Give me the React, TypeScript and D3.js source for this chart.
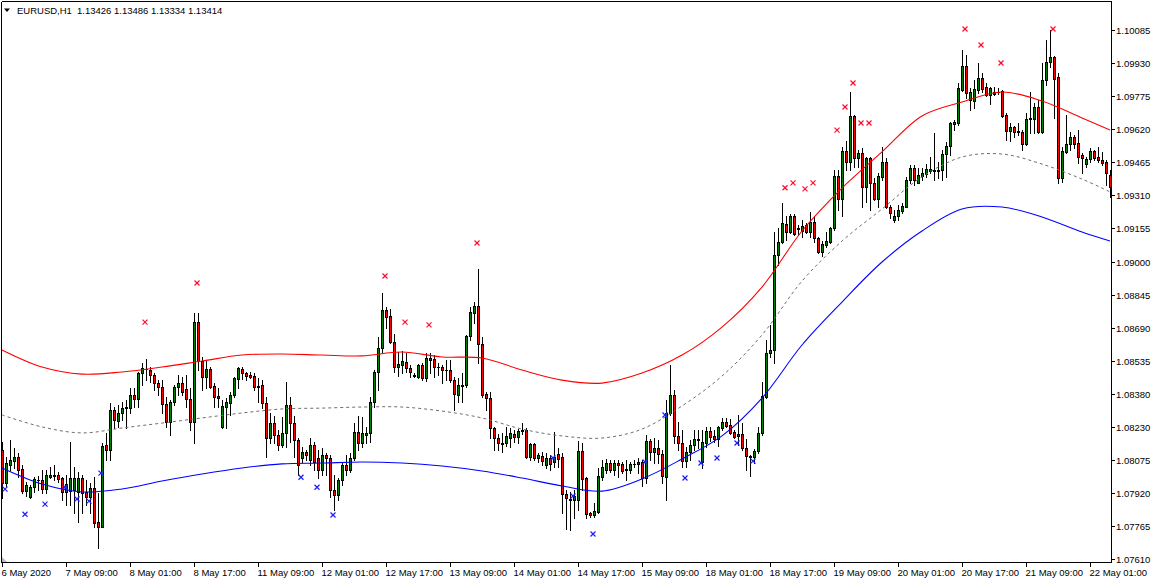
import React from 'react';
import * as d3 from 'd3';

const W = 1157;
const H = 580;

const SYMBOL = 'EURUSD,H1';
const QUOTE = '1.13426 1.13486 1.13334 1.13414';

const PRICE_LABELS = ['1.10085','1.09930','1.09775','1.09620','1.09465','1.09310','1.09155','1.09000','1.08845','1.08690','1.08535','1.08380','1.08230','1.08075','1.07920','1.07765','1.07610'];

const TIME_LABELS = ['6 May 2020','7 May 09:00','8 May 01:00','8 May 17:00','11 May 09:00','12 May 01:00','12 May 17:00','13 May 09:00','14 May 01:00','14 May 17:00','15 May 09:00','18 May 01:00','18 May 17:00','19 May 09:00','20 May 01:00','20 May 17:00','21 May 09:00','22 May 01:00'];
const BARS_PER_LABEL = 16;

// [open, high, low, close] hourly bars
const OHLC: [number, number, number, number][] = [
[1.08121,1.08159,1.07897,1.07966],[1.07966,1.08088,1.07947,1.08060],[1.08051,1.08168,1.08027,1.08074],[1.08069,1.08131,1.08037,1.08088],
[1.08088,1.08107,1.07994,1.08027],[1.08032,1.08051,1.07920,1.07929],[1.07929,1.07971,1.07906,1.07957],[1.07901,1.07957,1.07897,1.07947],
[1.07947,1.07994,1.07925,1.07985],[1.07980,1.07999,1.07934,1.07980],[1.07980,1.08027,1.07920,1.07938],[1.07938,1.08027,1.07920,1.08004],
[1.07994,1.08041,1.07990,1.08004],[1.08004,1.08051,1.07980,1.07999],[1.08004,1.08018,1.07971,1.07985],[1.07990,1.07994,1.07887,1.07925],
[1.07925,1.08004,1.07864,1.07961],[1.07929,1.08159,1.07864,1.07990],[1.07934,1.08041,1.07826,1.07990],[1.07925,1.08018,1.07784,1.07990],
[1.07990,1.08004,1.07826,1.07920],[1.07925,1.07980,1.07864,1.07901],[1.07901,1.07966,1.07826,1.07943],[1.07943,1.07994,1.07760,1.07779],
[1.07784,1.07920,1.07663,1.07760],[1.07760,1.08154,1.07760,1.08140],[1.08145,1.08200,1.08074,1.08121],[1.08121,1.08341,1.08074,1.08308],
[1.08308,1.08322,1.08224,1.08261],[1.08257,1.08332,1.08229,1.08294],[1.08294,1.08346,1.08261,1.08318],[1.08318,1.08355,1.08224,1.08322],
[1.08318,1.08411,1.08294,1.08378],[1.08378,1.08411,1.08322,1.08359],[1.08359,1.08486,1.08322,1.08481],[1.08481,1.08528,1.08425,1.08505],
[1.08500,1.08547,1.08448,1.08500],[1.08495,1.08511,1.08439,1.08472],[1.08472,1.08481,1.08401,1.08434],[1.08434,1.08448,1.08378,1.08415],
[1.08415,1.08448,1.08294,1.08336],[1.08336,1.08368,1.08229,1.08252],[1.08252,1.08355,1.08191,1.08346],[1.08346,1.08425,1.08332,1.08415],
[1.08415,1.08472,1.08378,1.08434],[1.08434,1.08462,1.08378,1.08392],[1.08406,1.08472,1.08322,1.08359],[1.08359,1.08411,1.08214,1.08252],
[1.08252,1.08762,1.08154,1.08719],[1.08719,1.08762,1.08495,1.08537],[1.08537,1.08556,1.08401,1.08462],[1.08462,1.08542,1.08411,1.08500],
[1.08500,1.08511,1.08411,1.08415],[1.08420,1.08434,1.08322,1.08368],[1.08373,1.08411,1.08322,1.08363],[1.08229,1.08355,1.08224,1.08327],
[1.08322,1.08363,1.08224,1.08346],[1.08341,1.08392,1.08285,1.08378],[1.08378,1.08462,1.08368,1.08457],[1.08453,1.08511,1.08411,1.08505],
[1.08500,1.08511,1.08453,1.08481],[1.08481,1.08486,1.08448,1.08467],[1.08472,1.08486,1.08457,1.08462],[1.08467,1.08481,1.08401,1.08415],
[1.08420,1.08457,1.08346,1.08415],[1.08425,1.08448,1.08318,1.08341],[1.08341,1.08368,1.08088,1.08177],[1.08177,1.08294,1.08154,1.08247],
[1.08247,1.08278,1.08154,1.08191],[1.08191,1.08214,1.08121,1.08145],[1.08145,1.08274,1.08136,1.08200],[1.08200,1.08439,1.08136,1.08332],
[1.08332,1.08368,1.08159,1.08247],[1.08247,1.08278,1.08088,1.08168],[1.08168,1.08177,1.08004,1.08051],[1.08084,1.08136,1.08065,1.08112],
[1.08112,1.08121,1.08074,1.08098],[1.08074,1.08177,1.08051,1.08145],[1.08145,1.08159,1.08027,1.08065],[1.08084,1.08121,1.07990,1.08027],
[1.08027,1.08131,1.08004,1.08098],[1.08098,1.08107,1.08004,1.08084],[1.08084,1.08098,1.07901,1.07934],[1.07934,1.08004,1.07840,1.07911],
[1.07911,1.07990,1.07887,1.07980],[1.07980,1.08065,1.07957,1.08051],[1.08051,1.08098,1.08004,1.08027],[1.08027,1.08107,1.08018,1.08084],
[1.08084,1.08247,1.08074,1.08205],[1.08205,1.08278,1.08121,1.08154],[1.08154,1.08274,1.08136,1.08200],[1.08191,1.08229,1.08154,1.08200],
[1.08200,1.08368,1.08159,1.08346],[1.08346,1.08495,1.08322,1.08486],[1.08486,1.08649,1.08401,1.08598],[1.08598,1.08855,1.08575,1.08776],
[1.08776,1.08789,1.08693,1.08743],[1.08748,1.08780,1.08621,1.08626],[1.08626,1.08663,1.08486,1.08511],[1.08511,1.08580,1.08467,1.08525],
[1.08520,1.08584,1.08481,1.08537],[1.08533,1.08575,1.08486,1.08505],[1.08505,1.08520,1.08462,1.08486],[1.08472,1.08481,1.08462,1.08467],
[1.08462,1.08523,1.08457,1.08520],[1.08520,1.08528,1.08448,1.08457],[1.08457,1.08575,1.08443,1.08552],[1.08552,1.08575,1.08481,1.08542],
[1.08547,1.08566,1.08462,1.08511],[1.08511,1.08528,1.08472,1.08511],[1.08511,1.08520,1.08434,1.08495],[1.08495,1.08542,1.08448,1.08495],
[1.08495,1.08542,1.08439,1.08448],[1.08448,1.08462,1.08308,1.08382],[1.08378,1.08457,1.08346,1.08425],[1.08420,1.08481,1.08346,1.08425],
[1.08425,1.08659,1.08415,1.08654],[1.08654,1.08789,1.08635,1.08766],[1.08762,1.08813,1.08715,1.08794],[1.08794,1.08967,1.08528,1.08616],
[1.08616,1.08649,1.08368,1.08378],[1.08382,1.08392,1.08308,1.08363],[1.08363,1.08392,1.08177,1.08224],[1.08224,1.08229,1.08121,1.08177],
[1.08177,1.08195,1.08121,1.08154],[1.08149,1.08200,1.08112,1.08154],[1.08154,1.08229,1.08140,1.08186],[1.08177,1.08224,1.08136,1.08200],
[1.08195,1.08214,1.08159,1.08182],[1.08182,1.08219,1.08154,1.08210],[1.08214,1.08247,1.08195,1.08210],[1.08214,1.08224,1.08084,1.08088],
[1.08088,1.08154,1.08074,1.08149],[1.08149,1.08154,1.08074,1.08084],[1.08084,1.08107,1.08065,1.08098],[1.08093,1.08112,1.08051,1.08069],
[1.08051,1.08107,1.08037,1.08084],[1.08084,1.08098,1.08027,1.08055],[1.08065,1.08205,1.08041,1.08088],[1.08102,1.08131,1.08041,1.08079],
[1.08088,1.08107,1.07826,1.07915],[1.07915,1.07934,1.07752,1.07897],[1.07892,1.07925,1.07747,1.07887],[1.07887,1.07934,1.07802,1.07906],
[1.07887,1.08163,1.07840,1.08116],[1.08116,1.08154,1.07934,1.07985],[1.07990,1.07994,1.07802,1.07821],[1.07826,1.07831,1.07807,1.07817],
[1.07817,1.07873,1.07807,1.07835],[1.07831,1.08037,1.07826,1.07999],[1.07994,1.08074,1.07980,1.08041],[1.08027,1.08079,1.08013,1.08060],
[1.08060,1.08074,1.08018,1.08027],[1.08027,1.08074,1.08004,1.08060],[1.08060,1.08074,1.07994,1.08051],[1.08055,1.08065,1.08013,1.08022],
[1.08032,1.08074,1.07980,1.08027],[1.08027,1.08065,1.08013,1.08055],[1.08055,1.08074,1.08041,1.08055],[1.08055,1.08084,1.08013,1.08065],
[1.08065,1.08074,1.07952,1.07990],[1.07990,1.08191,1.07966,1.08163],[1.08163,1.08172,1.08074,1.08112],[1.08112,1.08177,1.08060,1.08131],
[1.08131,1.08168,1.08060,1.08102],[1.08102,1.08121,1.07966,1.07999],[1.07994,1.08355,1.07887,1.08294],[1.08294,1.08519,1.08285,1.08378],
[1.08378,1.08401,1.08154,1.08186],[1.08186,1.08252,1.08121,1.08154],[1.08154,1.08214,1.08041,1.08069],[1.08069,1.08136,1.08041,1.08112],
[1.08112,1.08168,1.08074,1.08145],[1.08145,1.08214,1.08121,1.08172],[1.08172,1.08214,1.08131,1.08168],[1.08065,1.08214,1.08037,1.08159],
[1.08154,1.08229,1.08136,1.08210],[1.08210,1.08229,1.08163,1.08182],[1.08186,1.08214,1.08159,1.08172],[1.08172,1.08233,1.08140,1.08229],
[1.08224,1.08270,1.08214,1.08252],[1.08252,1.08270,1.08229,1.08233],[1.08238,1.08266,1.08195,1.08200],[1.08205,1.08214,1.08177,1.08182],
[1.08195,1.08285,1.08145,1.08186],[1.08195,1.08247,1.08121,1.08131],[1.08131,1.08172,1.08027,1.08093],[1.08093,1.08098,1.07999,1.08088],
[1.08088,1.08126,1.08060,1.08116],[1.08116,1.08229,1.08107,1.08200],[1.08200,1.08439,1.08191,1.08373],[1.08368,1.08635,1.08363,1.08575],
[1.08575,1.08707,1.08556,1.08589],[1.08589,1.09141,1.08528,1.09033],[1.09033,1.09159,1.08986,1.09094],[1.09094,1.09276,1.09089,1.09182],
[1.09177,1.09213,1.09103,1.09141],[1.09141,1.09223,1.09136,1.09213],[1.09213,1.09223,1.09127,1.09131],[1.09159,1.09173,1.09127,1.09154],
[1.09145,1.09196,1.09117,1.09168],[1.09173,1.09182,1.09136,1.09141],[1.09141,1.09234,1.09117,1.09187],[1.09187,1.09213,1.09094,1.09112],
[1.09112,1.09117,1.09042,1.09047],[1.09047,1.09098,1.09028,1.09084],[1.09080,1.09141,1.09070,1.09098],[1.09094,1.09163,1.09089,1.09159],
[1.09159,1.09430,1.09150,1.09402],[1.09402,1.09430,1.09243,1.09295],[1.09295,1.09538,1.09213,1.09519],[1.09519,1.09566,1.09430,1.09468],
[1.09468,1.09794,1.09430,1.09683],[1.09683,1.09687,1.09444,1.09486],[1.09486,1.09524,1.09444,1.09510],[1.09510,1.09533,1.09257,1.09351],
[1.09351,1.09491,1.09281,1.09486],[1.09486,1.09491,1.09243,1.09369],[1.09369,1.09393,1.09290,1.09295],[1.09295,1.09416,1.09257,1.09402],
[1.09398,1.09538,1.09384,1.09468],[1.09468,1.09486,1.09252,1.09257],[1.09257,1.09267,1.09208,1.09229],[1.09196,1.09243,1.09187,1.09215],
[1.09213,1.09267,1.09196,1.09243],[1.09239,1.09276,1.09229,1.09262],[1.09257,1.09398,1.09257,1.09384],[1.09384,1.09454,1.09370,1.09440],
[1.09440,1.09454,1.09360,1.09384],[1.09370,1.09440,1.09370,1.09407],[1.09402,1.09440,1.09384,1.09416],[1.09412,1.09459,1.09398,1.09435],
[1.09426,1.09491,1.09416,1.09435],[1.09430,1.09603,1.09384,1.09426],[1.09426,1.09468,1.09393,1.09430],[1.09430,1.09524,1.09384,1.09505],
[1.09505,1.09561,1.09398,1.09543],[1.09543,1.09655,1.09500,1.09650],[1.09646,1.09664,1.09617,1.09655],[1.09650,1.09837,1.09641,1.09814],
[1.09804,1.09992,1.09800,1.09917],[1.09917,1.09968,1.09767,1.09790],[1.09758,1.09814,1.09711,1.09795],[1.09753,1.09851,1.09720,1.09809],
[1.09804,1.09931,1.09790,1.09861],[1.09861,1.09884,1.09795,1.09809],[1.09818,1.09837,1.09777,1.09781],[1.09781,1.09818,1.09739,1.09814],
[1.09785,1.09818,1.09781,1.09795],[1.09795,1.09814,1.09785,1.09795],[1.09800,1.09804,1.09678,1.09683],[1.09687,1.09697,1.09571,1.09612],
[1.09612,1.09649,1.09566,1.09631],[1.09631,1.09636,1.09585,1.09608],[1.09612,1.09649,1.09594,1.09608],[1.09608,1.09617,1.09524,1.09552],
[1.09552,1.09697,1.09547,1.09669],[1.09669,1.09795,1.09603,1.09673],[1.09669,1.09742,1.09603,1.09725],[1.09725,1.09758,1.09603,1.09608],
[1.09608,1.09931,1.09603,1.09851],[1.09851,1.10038,1.09828,1.09936],[1.09936,1.10085,1.09912,1.09959],[1.09959,1.09964,1.09673,1.09856],
[1.09865,1.09884,1.09370,1.09393],[1.09393,1.09538,1.09374,1.09519],[1.09514,1.09687,1.09510,1.09552],[1.09552,1.09608,1.09524,1.09585],
[1.09585,1.09594,1.09533,1.09552],[1.09556,1.09617,1.09463,1.09491],[1.09500,1.09510,1.09416,1.09486],[1.09459,1.09491,1.09444,1.09482],
[1.09482,1.09533,1.09468,1.09519],[1.09519,1.09524,1.09477,1.09486],[1.09491,1.09538,1.09468,1.09477],[1.09477,1.09514,1.09454,1.09463],
[1.09468,1.09477,1.09360,1.09416],[1.09407,1.09430,1.09304,1.09351],
];

// envelope lines, sampled at these bar indices
const BAND_INDEX = [0,10,20,30,40,50,60,70,80,90,100,110,120,130,140,150,160,170,180,190,200,210,220,230,240,250,260,270,277];
const UPPER_BAND = [1.08589,1.08509,1.08476,1.08486,1.08509,1.08537,1.08565,1.08570,1.08565,1.08561,1.08579,1.08556,1.08551,1.08495,1.08448,1.08434,1.08481,1.08565,1.08696,1.08883,1.09145,1.09346,1.09515,1.09683,1.09748,1.09795,1.09753,1.09674,1.09617];
const MIDDLE_BAND = [1.08285,1.08229,1.08201,1.08224,1.08247,1.08271,1.08294,1.08313,1.08317,1.08322,1.08322,1.08303,1.08271,1.08219,1.08187,1.08177,1.08219,1.08327,1.08467,1.08659,1.08911,1.09098,1.09248,1.09398,1.09491,1.09505,1.09458,1.09388,1.09328];
const LOWER_BAND = [1.08037,1.07962,1.07925,1.07939,1.07976,1.08009,1.08037,1.08056,1.08060,1.08065,1.08060,1.08046,1.08023,1.07990,1.07953,1.07929,1.07986,1.08079,1.08187,1.08364,1.08612,1.08813,1.09000,1.09145,1.09248,1.09257,1.09211,1.09140,1.09098];

// signal arrows
const SELL_IDX = [36,49,96,101,107,119,196,198,201,203,209,211,213,215,217,241,245,250,263];
const SELL_PRICE = [1.08719,1.08902,1.08935,1.08719,1.08706,1.09089,1.09347,1.09370,1.09342,1.09370,1.09617,1.09725,1.09837,1.09650,1.09650,1.10090,1.10015,1.09931,1.10090];
const BUY_IDX = [1,6,11,16,19,22,25,75,79,83,138,143,148,161,166,171,175,179,184,188];
const BUY_PRICE = [1.07938,1.07821,1.07868,1.07947,1.07892,1.07882,1.08013,1.07994,1.07947,1.07817,1.08084,1.07906,1.07728,1.08065,1.08285,1.07990,1.08060,1.08084,1.08154,1.08069];

const BULL = '#008000';
const BEAR = '#ff0000';
const FONT = "Tahoma, 'Liberation Sans', Arial, sans-serif";

const PL = 1, PT = 1, PR = 1111, PB = 562;

function Cross({ cx, cy, color }: { cx: number; cy: number; color: string }) {
  return (
    <g stroke={color} strokeWidth={1.3}>
      <line x1={cx - 2.5} y1={cy - 2.5} x2={cx + 2.5} y2={cy + 2.5} />
      <line x1={cx - 2.5} y1={cy + 2.5} x2={cx + 2.5} y2={cy - 2.5} />
    </g>
  );
}

export default function App() {
  const n = OHLC.length;
  const x = d3.scaleLinear().domain([0, n - 1]).range([2, 2 + 4 * (n - 1)]);
  const yMax = +PRICE_LABELS[0];
  const yMin = +PRICE_LABELS[PRICE_LABELS.length - 1];
  const y = d3.scaleLinear().domain([yMin, yMax]).range([559.3, 30]);
  const tickVals = PRICE_LABELS.map((_, k) => yMax - (k * (yMax - yMin)) / (PRICE_LABELS.length - 1));

  const bandPath = (vals: number[]) =>
    d3.line<number>()
      .x((_, j) => x(BAND_INDEX[j]))
      .y((v) => y(v))
      .curve(d3.curveCatmullRom)(vals) || '';

  return (
    <svg width={W} height={H} style={{ position: 'absolute', left: 0, top: 0, background: '#fff', display: 'block' }}>
      <defs>
        <clipPath id="plot">
          <rect x={PL + 0.5} y={PT + 0.5} width={PR - PL - 0.5} height={PB - PT - 0.5} />
        </clipPath>
      </defs>
      <rect x={0} y={0} width={W} height={H} fill="#fff" />

      <g clipPath="url(#plot)">
        {OHLC.map(([o, h, l, c], i) => {
          const cx = Math.round(x(i));
          const yo = Math.round(y(o));
          const yc = Math.round(y(c));
          const yh = Math.round(y(h));
          const yl = Math.round(y(l));
          const top = Math.min(yo, yc);
          const bot = Math.max(yo, yc);
          const bull = c >= o;
          return (
            <g key={i} shapeRendering="crispEdges">
              <line x1={cx + 0.5} x2={cx + 0.5} y1={yh} y2={yl + 1} stroke="#000" strokeWidth={1} />
              {bot - top < 1 ? (
                <line x1={cx - 1} x2={cx + 2} y1={top + 0.5} y2={top + 0.5} stroke="#000" strokeWidth={1} />
              ) : (
                <rect x={cx - 0.5} y={top + 0.5} width={2} height={bot - top} fill={bull ? BULL : BEAR} stroke="#000" strokeWidth={1} />
              )}
            </g>
          );
        })}

        <path d={bandPath(MIDDLE_BAND)} fill="none" stroke="#6e6e6e" strokeWidth={1} strokeDasharray="3,3" />
        <path d={bandPath(UPPER_BAND)} fill="none" stroke="#ff0000" strokeWidth={1.1} />
        <path d={bandPath(LOWER_BAND)} fill="none" stroke="#0000ff" strokeWidth={1.1} />

        {SELL_IDX.map((idx, k) => (
          <Cross key={'s' + k} cx={x(idx) - 1} cy={y(SELL_PRICE[k])} color="#ff1030" />
        ))}
        {BUY_IDX.map((idx, k) => (
          <Cross key={'b' + k} cx={x(idx) - 1} cy={y(BUY_PRICE[k])} color="#2020ff" />
        ))}
      </g>

      {/* frame */}
      <g shapeRendering="crispEdges" stroke="#000" strokeWidth={1}>
        <line x1={PL + 0.5} x2={PR + 0.5} y1={PT + 0.5} y2={PT + 0.5} />
        <line x1={PL + 0.5} x2={PL + 0.5} y1={PT + 0.5} y2={PB + 0.5} />
        <line x1={PR + 0.5} x2={PR + 0.5} y1={PT + 0.5} y2={PB + 0.5} />
        <line x1={PL + 0.5} x2={PR + 0.5} y1={PB + 0.5} y2={PB + 0.5} />
      </g>

      {/* price axis */}
      <g fontFamily={FONT} fontSize={9.5} fill="#000">
        {tickVals.map((v, k) => {
          const ty = Math.round(y(v));
          return (
            <g key={k}>
              <line x1={PR + 1} x2={PR + 4} y1={ty + 0.5} y2={ty + 0.5} stroke="#000" shapeRendering="crispEdges" />
              <text x={PR + 5} y={ty + 0.5} dy="0.35em">{PRICE_LABELS[k]}</text>
            </g>
          );
        })}
      </g>

      {/* time axis */}
      <g fontFamily={FONT} fontSize={9.5} fill="#000">
        {TIME_LABELS.map((t, k) => {
          const tx = Math.round(x(k * BARS_PER_LABEL));
          return (
            <g key={t}>
              <line x1={tx + 0.5} x2={tx + 0.5} y1={PB + 1} y2={PB + 5} stroke="#000" shapeRendering="crispEdges" />
              <text x={tx - 0.5} y={576}>{t}</text>
            </g>
          );
        })}
      </g>

      {/* shift marker */}
      <polygon points={`${PL + 1},${PB - 5} ${PL + 1},${PB} ${PL + 6},${PB}`} fill="#b8b8b8" />

      {/* title */}
      <polygon points="4,8.5 10,8.5 7,12" fill="#000" />
      <text x={17} y={13.5} fontFamily={FONT} fontSize={9.5} fill="#000">{SYMBOL}</text>
      <text x={77} y={13.5} fontFamily={FONT} fontSize={9.5} fill="#000">{QUOTE}</text>
    </svg>
  );
}
